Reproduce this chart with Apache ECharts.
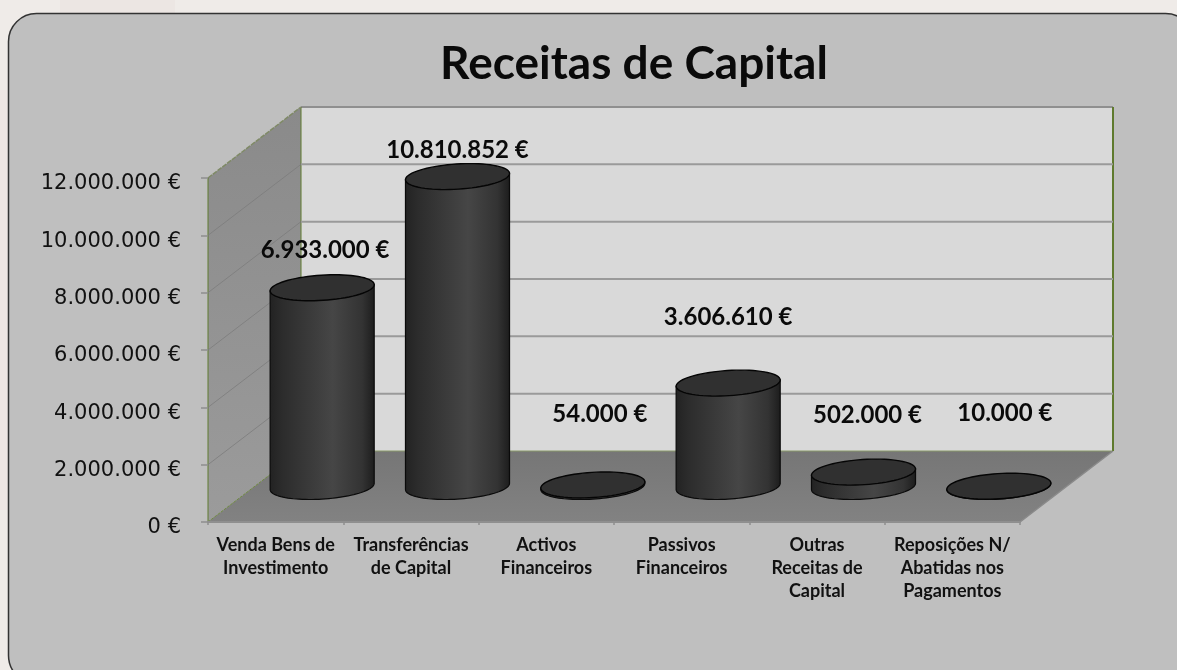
<!DOCTYPE html>
<html>
<head>
<meta charset="utf-8">
<style>html,body{margin:0;padding:0;background:#efebe8;}#c{width:1177px;height:670px;}</style>
<script src="https://cdn.jsdelivr.net/npm/echarts@6/dist/echarts.min.js"></script>
</head>
<body>
<div id="c"></div>
<script>
var titleText = 'Receitas de Capital';
var categories = ['Venda Bens de\nInvestimento','Transferências\nde Capital','Activos\nFinanceiros','Passivos\nFinanceiros','Outras\nReceitas de\nCapital','Reposições N/\nAbatidas nos\nPagamentos'];
var values = [6933000,10810852,54000,3606610,502000,10000];
var valueLabels = ['6.933.000 €','10.810.852 €','54.000 €','3.606.610 €','502.000 €','10.000 €'];
var yTicks = [0,2000000,4000000,6000000,8000000,10000000,12000000];
var yTickLabels = ['0 €','2.000.000 €','4.000.000 €','6.000.000 €','8.000.000 €','10.000.000 €','12.000.000 €'];
// label offsets relative to the cylinder's top centre (layout only)
var labelNudges = [[3,-37],[0,-26],[7,-71],[0,-66],[4,-57],[6,-73]];

var DX = 93, DY = -71;            // depth vector of the 3D box
var AX_RATIO = 50.5/135.33, BX_RATIO = 12.5/135.33, BY_RATIO = 13/135.33; // ellipse basis relative to band

function ell(c,ax,bx,by,t){return [c[0]+Math.cos(t)*ax+Math.sin(t)*bx, c[1]+Math.sin(t)*by];}
function ellipsePts(c,ax,bx,by){var p=[];for(var i=0;i<72;i++){p.push(ell(c,ax,bx,by,i/72*2*Math.PI));}return p;}

function renderWalls(params, api){
  var cs = params.coordSys;
  var x0=cs.x, x1=cs.x+cs.width, y0=api.coord([0,0])[1], yt=api.coord([0,12000000])[1];
  var sideFill = new echarts.graphic.LinearGradient(0,0,0,1,[{offset:0,color:'#8a8a8a'},{offset:1,color:'#9b9b9b'}]);
  var floorFill = new echarts.graphic.LinearGradient(0,0,0,1,[{offset:0,color:'#767676'},{offset:1,color:'#828282'}]);
  return {type:'group',children:[
    {type:'polygon',shape:{points:[[x0+DX,yt+DY],[x1+DX,yt+DY],[x1+DX,y0+DY],[x0+DX,y0+DY]]},style:{fill:'#d9d9d9'}},
    {type:'polygon',shape:{points:[[x0,yt],[x0+DX,yt+DY],[x0+DX,y0+DY],[x0,y0]]},style:{fill:sideFill}},
    {type:'polygon',shape:{points:[[x0,y0],[x1,y0],[x1+DX,y0+DY],[x0+DX,y0+DY]]},style:{fill:floorFill}},
    {type:'line',shape:{x1:x0+DX,y1:yt+DY,x2:x1+DX,y2:yt+DY},style:{stroke:'#8f8f8f',lineWidth:2}},
    {type:'line',shape:{x1:x0+DX,y1:y0+DY,x2:x1+DX,y2:y0+DY},style:{stroke:'#8a9a6a',lineWidth:1}},
    {type:'line',shape:{x1:x0+DX,y1:yt+DY,x2:x0+DX,y2:y0+DY},style:{stroke:'#5f7a2e',lineWidth:1}},
    {type:'line',shape:{x1:x1+DX,y1:yt+DY,x2:x1+DX,y2:y0+DY},style:{stroke:'#5f7a2e',lineWidth:2}},
    {type:'line',shape:{x1:x0,y1:yt,x2:x0+DX,y2:yt+DY},style:{stroke:'#7f8a66',lineWidth:1.5,lineDash:[5,1]}},
    {type:'line',shape:{x1:x0,y1:y0,x2:x0+DX,y2:y0+DY},style:{stroke:'#6f8a40',lineWidth:1,lineDash:[3,1]}},
    {type:'line',shape:{x1:x1,y1:y0,x2:x1+DX,y2:y0+DY},style:{stroke:'#8a8a8a',lineWidth:1.5}},
    {type:'line',shape:{x1:x0,y1:yt,x2:x0,y2:y0},style:{stroke:'#5f7a2e',lineWidth:1}}
  ]};
}
function renderGrid(params, api){
  var v = api.value(0);
  if(v===0||v===12000000) return {type:'group',children:[]};
  var cs = params.coordSys, y = api.coord([0,v])[1], l = cs.x, r = cs.x+cs.width;
  return {type:'group',children:[
    {type:'line',shape:{x1:l,y1:y,x2:l+DX,y2:y+DY},style:{stroke:'#7c7c7c',lineWidth:1,opacity:.8}},
    {type:'line',shape:{x1:l+DX,y1:y+DY,x2:r+DX,y2:y+DY},style:{stroke:'#9a9a9a',lineWidth:2}}
  ]};
}
function renderCyl(params, api){
  var i = api.value(0), v = api.value(1);
  var band = api.size([1,0])[0];
  var ax = band*AX_RATIO, bx = band*BX_RATIO, by = -band*BY_RATIO;
  var base = api.coord([i,0]), top = api.coord([i,v]);
  var cB = [base[0]+DX/2, base[1]+DY/2], cT = [top[0]+DX/2, top[1]+DY/2];
  var tR = Math.atan2(bx,ax), tL = tR+Math.PI;
  var pts = [];
  pts.push(ell(cT,ax,bx,by,tR));
  for(var k=0;k<=48;k++){ pts.push(ell(cB,ax,bx,by,tR-k/48*Math.PI)); }
  pts.push(ell(cT,ax,bx,by,tL));
  var sideFill = new echarts.graphic.LinearGradient(0,0,1,0,[
    {offset:0,color:'#222222'},{offset:.12,color:'#2c2c2c'},{offset:.6,color:'#464646'},{offset:.88,color:'#333333'},{offset:1,color:'#1c1c1c'}]);
  var nudge = labelNudges[i];
  return {type:'group',children:[
    {type:'polygon',shape:{points:pts},style:{fill:sideFill,stroke:'#0a0a0a',lineWidth:1.2}},
    {type:'polygon',shape:{points:ellipsePts(cT,ax,bx,by)},style:{fill:'#303030',stroke:'#050505',lineWidth:1.4}},
    {type:'text',z2:50,style:{text:valueLabels[i],x:cT[0]+nudge[0],y:cT[1]+nudge[1],align:'center',verticalAlign:'middle',
      font:'bold 24px Lato',fill:'#0a0a0a'}}
  ]};
}

var chart = echarts.init(document.getElementById('c'),null,{renderer:'canvas'});
chart.setOption({
  animation:false,
  backgroundColor:'#efebe8',
  title:{text:titleText,left:629,top:36,textAlign:'center',textStyle:{fontFamily:'Lato',fontWeight:'bold',fontSize:46,color:'#0a0a0a'}},
  graphic:[
    {type:'rect',z:-11,shape:{x:60,y:0,width:115,height:13},style:{fill:'#ece6e3'}},
    {type:'rect',z:-11,shape:{x:0,y:90,width:8,height:420},style:{fill:'#eee6e3'}},
    {type:'rect',z:-10,shape:{x:8.5,y:13.5,width:1185,height:670,r:28},style:{fill:'#bfbfbf',stroke:'#333333',lineWidth:1.5}}
  ],
  grid:{left:208,right:157,top:178,bottom:148,containLabel:false},
  xAxis:{type:'category',data:categories,z:5,
    axisLine:{show:true,lineStyle:{color:'#8f8f8f',width:2}},
    axisTick:{show:true,length:3,lineStyle:{color:'#8f8f8f',width:1.5}},
    axisLabel:{interval:0,margin:12,fontFamily:'Lato',fontWeight:'bold',fontSize:18,lineHeight:23,color:'#111111'}
  },
  yAxis:{type:'value',min:0,max:12000000,interval:2000000,z:5,
    axisLine:{show:false},
    axisTick:{show:true,length:7,lineStyle:{color:'#8f8f8f',width:1.5}},
    splitLine:{show:false},
    axisLabel:{margin:27,verticalAlign:'top',lineHeight:12,fontFamily:'DejaVu Sans',fontSize:21,color:'#111111',
      formatter:function(v){return yTickLabels[yTicks.indexOf(v)];}}
  },
  series:[
    {type:'custom',name:'walls',coordinateSystem:'cartesian2d',clip:false,silent:true,z:1,data:[[0,0]],renderItem:renderWalls},
    {type:'custom',name:'grid',coordinateSystem:'cartesian2d',clip:false,silent:true,z:2,encode:{y:0},data:yTicks.map(function(v){return [v];}),renderItem:renderGrid},
    {type:'custom',name:'Receitas de Capital',coordinateSystem:'cartesian2d',clip:false,z:3,encode:{x:0,y:1},
      data:values.map(function(v,i){return [i,v];}),renderItem:renderCyl}
  ]
});
</script>
</body>
</html>
